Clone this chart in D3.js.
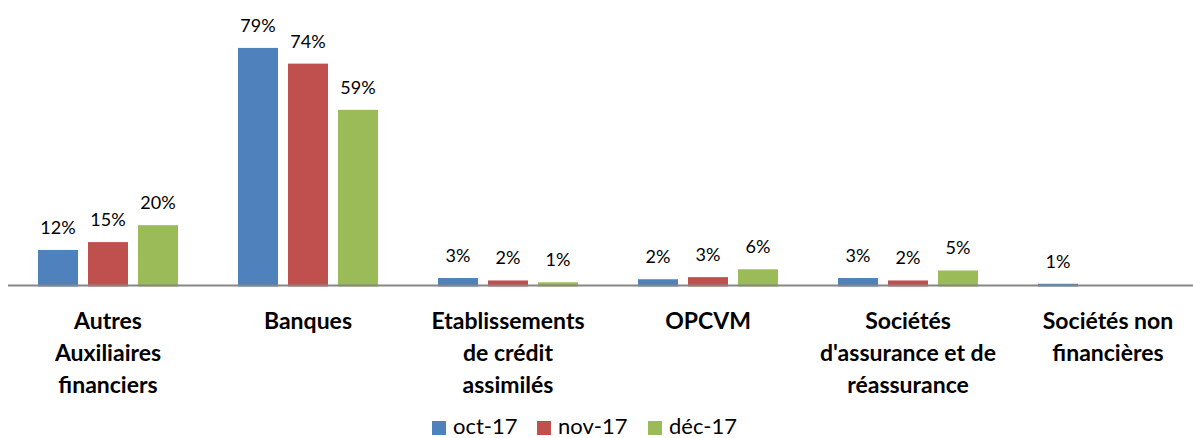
<!DOCTYPE html>
<html lang="fr">
<head>
  <meta charset="UTF-8">
  <title>Répartition par secteur</title>
  <style>
    body { margin: 0; background: #fff; }
    .value { font: 18px Lato, sans-serif; fill: #000; text-anchor: middle; }
    .cat text { font: bold 23px Lato, sans-serif; fill: #000; text-anchor: middle; }
    .legend text { font: 22px Lato, sans-serif; fill: #000; }
  </style>
</head>
<body>
  <svg width="1193" height="438"></svg>

  <script src="https://d3js.org/d3.v7.min.js"></script>
  <script>
    const categories = [
      "Autres\nAuxiliaires\nfinanciers",
      "Banques",
      "Etablissements\nde crédit\nassimilés",
      "OPCVM",
      "Sociétés\nd'assurance et de\nréassurance",
      "Sociétés non\nfinancières"
    ];
    const seriesNames = ["oct-17", "nov-17", "déc-17"];
    const oct17 = [12.1, 79.0, 2.8, 2.4, 2.8, 0.9];
    const nov17 = [14.7, 73.8, 2.0, 3.1, 2.0, 0];
    const dec17 = [20.3, 58.5, 1.4, 5.7, 5.3, 0];
    const colors = ["#4F81BD", "#C0504D", "#9BBB59"];

    const series = [oct17, nov17, dec17];
    const svg = d3.select("svg");

    const x = d3.scaleBand()
      .domain(categories)
      .range([8, 1208]);

    const x1 = d3.scaleBand()
      .domain(seriesNames)
      .range([0, 140])
      .paddingInner(0.2);

    const y = d3.scaleLinear()
      .domain([0, 90])
      .range([286.5, 14.7]);

    const groups = svg.selectAll(".grp")
      .data(categories)
      .enter().append("g")
      .attr("class", "grp")
      .attr("transform", d => `translate(${x(d) + (x.bandwidth() - 140) / 2},0)`);

    groups.selectAll("rect")
      .data((d, i) => series.map((s, j) => ({ name: seriesNames[j], v: s[i], c: colors[j] })))
      .enter().append("rect")
      .attr("x", d => x1(d.name))
      .attr("width", x1.bandwidth())
      .attr("y", d => y(d.v))
      .attr("height", d => y(0) - y(d.v))
      .attr("fill", d => d.c);

    groups.selectAll(".value")
      .data((d, i) => series.map((s, j) => ({ name: seriesNames[j], v: s[i] })).filter(d => d.v > 0))
      .enter().append("text")
      .attr("class", "value")
      .attr("x", d => x1(d.name) + x1.bandwidth() / 2)
      .attr("y", d => y(d.v) - 16)
      .text(d => Math.round(d.v) + "%");

    // axe horizontal
    svg.append("line")
      .attr("x1", 8).attr("x2", 1193)
      .attr("y1", 285.5).attr("y2", 285.5)
      .attr("stroke", "#868686")
      .attr("stroke-width", 2);

    const cat = svg.append("g").attr("class", "cat");
    categories.forEach(c => {
      const t = cat.append("text")
        .attr("x", x(c) + x.bandwidth() / 2)
        .attr("y", 329);
      c.split("\n").forEach((line, k) => {
        t.append("tspan")
          .attr("x", x(c) + x.bandwidth() / 2)
          .attr("dy", k === 0 ? 0 : 32)
          .text(line);
      });
    });

    const legendX = [432, 537, 648];
    const legend = svg.append("g").attr("class", "legend");
    seriesNames.forEach((n, i) => {
      legend.append("rect")
        .attr("x", legendX[i]).attr("y", 421)
        .attr("width", 14).attr("height", 14)
        .attr("fill", colors[i]);
      legend.append("text")
        .attr("x", legendX[i] + 21).attr("y", 434)
        .text(n);
    });
  </script>
</body>
</html>
